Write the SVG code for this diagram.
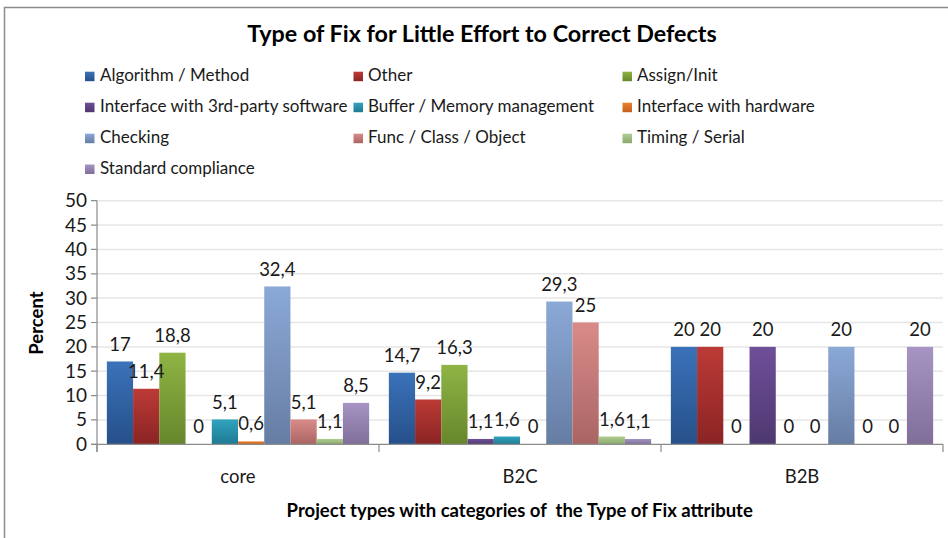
<svg xmlns="http://www.w3.org/2000/svg" width="948" height="538" viewBox="0 0 948 538">
  <style>
    text { font-family: Lato, "Liberation Sans", sans-serif; fill: #1a1a1a; }
    .title { font-size: 23.3px; font-weight: bold; text-anchor: middle; fill: #000; }
    .leg { font-size: 17px; }
    .tick { font-size: 19px; text-anchor: end; }
    .val { font-size: 18.5px; text-anchor: middle; }
    .cat { font-size: 18.5px; text-anchor: middle; }
    .axt { font-size: 18.5px; font-weight: bold; text-anchor: middle; fill: #000; }
    .grid { stroke: #e6e6e6; stroke-width: 1.5; }
    .axis { stroke: #8c8c8c; stroke-width: 1.2; fill: none; }
  </style>
  <defs>
    <linearGradient id="g1" x1="0" y1="0" x2="0" y2="1"><stop offset="0" stop-color="#3A72B9"/><stop offset="1" stop-color="#26508A"/></linearGradient>
    <linearGradient id="g2" x1="0" y1="0" x2="0" y2="1"><stop offset="0" stop-color="#BC3A36"/><stop offset="1" stop-color="#8A2424"/></linearGradient>
    <linearGradient id="g3" x1="0" y1="0" x2="0" y2="1"><stop offset="0" stop-color="#8FB444"/><stop offset="1" stop-color="#67862C"/></linearGradient>
    <linearGradient id="g4" x1="0" y1="0" x2="0" y2="1"><stop offset="0" stop-color="#6F4F9A"/><stop offset="1" stop-color="#4E3870"/></linearGradient>
    <linearGradient id="g5" x1="0" y1="0" x2="0" y2="1"><stop offset="0" stop-color="#31A3BF"/><stop offset="1" stop-color="#1E7A92"/></linearGradient>
    <linearGradient id="g6" x1="0" y1="0" x2="0" y2="1"><stop offset="0" stop-color="#EE8030"/><stop offset="1" stop-color="#C2601E"/></linearGradient>
    <linearGradient id="g7" x1="0" y1="0" x2="0" y2="1"><stop offset="0" stop-color="#8BA9D7"/><stop offset="1" stop-color="#667DA3"/></linearGradient>
    <linearGradient id="g8" x1="0" y1="0" x2="0" y2="1"><stop offset="0" stop-color="#D98B89"/><stop offset="1" stop-color="#A96563"/></linearGradient>
    <linearGradient id="g9" x1="0" y1="0" x2="0" y2="1"><stop offset="0" stop-color="#B0CD91"/><stop offset="1" stop-color="#8AA76E"/></linearGradient>
    <linearGradient id="g10" x1="0" y1="0" x2="0" y2="1"><stop offset="0" stop-color="#A695C4"/><stop offset="1" stop-color="#7F6E98"/></linearGradient>
  </defs>

  <!-- chart area frame -->
  <rect x="0" y="0" width="948" height="538" fill="#fff"/>
  <rect x="4.5" y="7.5" width="1000" height="600" fill="#fff" stroke="#8c8c8c" stroke-width="1.5"/>

  <text id="title" class="title" x="482" y="41.7">Type of Fix for Little Effort to Correct Defects</text>

  <!-- legend -->
  <g id="legend">
    <rect x="85" y="71.7" width="9.5" height="9.5" fill="url(#g1)"/><text class="leg" x="100" y="80.7">Algorithm / Method</text>
    <rect x="353.5" y="71.7" width="9.5" height="9.5" fill="url(#g2)"/><text class="leg" x="368" y="80.7">Other</text>
    <rect x="622.5" y="71.7" width="9.5" height="9.5" fill="url(#g3)"/><text class="leg" x="637" y="80.7">Assign/Init</text>
    <rect x="85" y="102.7" width="9.5" height="9.5" fill="url(#g4)"/><text class="leg" x="100" y="111.7">Interface with 3rd-party software</text>
    <rect x="353.5" y="102.7" width="9.5" height="9.5" fill="url(#g5)"/><text class="leg" x="368" y="111.7">Buffer / Memory management</text>
    <rect x="622.5" y="102.7" width="9.5" height="9.5" fill="url(#g6)"/><text class="leg" x="637" y="111.7">Interface with hardware</text>
    <rect x="85" y="133.7" width="9.5" height="9.5" fill="url(#g7)"/><text class="leg" x="100" y="142.7">Checking</text>
    <rect x="353.5" y="133.7" width="9.5" height="9.5" fill="url(#g8)"/><text class="leg" x="368" y="142.7">Func / Class / Object</text>
    <rect x="622.5" y="133.7" width="9.5" height="9.5" fill="url(#g9)"/><text class="leg" x="637" y="142.7">Timing / Serial</text>
    <rect x="85" y="164.5" width="9.5" height="9.5" fill="url(#g10)"/><text class="leg" x="100" y="173.5">Standard compliance</text>
  </g>

  <!-- gridlines every 5 % -->
  <g id="gridlines">
    <line class="grid" x1="97" y1="200.7" x2="943" y2="200.7"/>
    <line class="grid" x1="97" y1="225.1" x2="943" y2="225.1"/>
    <line class="grid" x1="97" y1="249.4" x2="943" y2="249.4"/>
    <line class="grid" x1="97" y1="273.8" x2="943" y2="273.8"/>
    <line class="grid" x1="97" y1="298.1" x2="943" y2="298.1"/>
    <line class="grid" x1="97" y1="322.5" x2="943" y2="322.5"/>
    <line class="grid" x1="97" y1="346.9" x2="943" y2="346.9"/>
    <line class="grid" x1="97" y1="371.2" x2="943" y2="371.2"/>
    <line class="grid" x1="97" y1="395.6" x2="943" y2="395.6"/>
    <line class="grid" x1="97" y1="419.9" x2="943" y2="419.9"/>
  </g>

  <!-- value axis -->
  <g id="y-axis">
    <path class="axis" d="M97 200.7V452 M91 200.7H97 M91 225.1H97 M91 249.4H97 M91 273.8H97 M91 298.1H97 M91 322.5H97 M91 346.9H97 M91 371.2H97 M91 395.6H97 M91 419.9H97 M91 444.3H97"/>
    <text class="tick" x="87" y="207.2">50</text>
    <text class="tick" x="87" y="231.6">45</text>
    <text class="tick" x="87" y="255.9">40</text>
    <text class="tick" x="87" y="280.3">35</text>
    <text class="tick" x="87" y="304.6">30</text>
    <text class="tick" x="87" y="329.0">25</text>
    <text class="tick" x="87" y="353.4">20</text>
    <text class="tick" x="87" y="377.7">15</text>
    <text class="tick" x="87" y="402.1">10</text>
    <text class="tick" x="87" y="426.4">5</text>
    <text class="tick" x="87" y="450.8">0</text>
    <text class="axt" transform="translate(43.3 323) rotate(-90)" x="0" y="0">Percent</text>
  </g>

  <!-- bars: core -->
  <g id="core">
    <rect x="106.85" y="361.48" width="26.23" height="82.82" fill="url(#g1)"/>
    <rect x="133.08" y="388.76" width="26.23" height="55.54" fill="url(#g2)"/>
    <rect x="159.31" y="352.71" width="26.23" height="91.59" fill="url(#g3)"/>
    <rect x="211.77" y="419.45" width="26.23" height="24.85" fill="url(#g5)"/>
    <rect x="238.00" y="441.38" width="26.23" height="2.92" fill="url(#g6)"/>
    <rect x="264.23" y="286.45" width="26.23" height="157.85" fill="url(#g7)"/>
    <rect x="290.46" y="419.45" width="26.23" height="24.85" fill="url(#g8)"/>
    <rect x="316.69" y="438.94" width="26.23" height="5.36" fill="url(#g9)"/>
    <rect x="342.92" y="402.89" width="26.23" height="41.41" fill="url(#g10)"/>
    <text class="val" x="119.96" y="350.5">17</text>
    <text class="val" x="146.19" y="377.8">11,4</text>
    <text class="val" x="172.42" y="341.7">18,8</text>
    <text class="val" x="198.65" y="433.3">0</text>
    <text class="val" x="224.88" y="408.5">5,1</text>
    <text class="val" x="251.11" y="430.4">0,6</text>
    <text class="val" x="277.34" y="275.5">32,4</text>
    <text class="val" x="303.57" y="408.5">5,1</text>
    <text class="val" x="329.80" y="427.9">1,1</text>
    <text class="val" x="356.03" y="391.9">8,5</text>
  </g>

  <!-- bars: B2C -->
  <g id="b2c">
    <rect x="388.85" y="372.68" width="26.23" height="71.62" fill="url(#g1)"/>
    <rect x="415.08" y="399.48" width="26.23" height="44.82" fill="url(#g2)"/>
    <rect x="441.31" y="364.89" width="26.23" height="79.41" fill="url(#g3)"/>
    <rect x="467.54" y="438.94" width="26.23" height="5.36" fill="url(#g4)"/>
    <rect x="493.77" y="436.50" width="26.23" height="7.80" fill="url(#g5)"/>
    <rect x="546.23" y="301.55" width="26.23" height="142.75" fill="url(#g7)"/>
    <rect x="572.46" y="322.50" width="26.23" height="121.80" fill="url(#g8)"/>
    <rect x="598.69" y="436.50" width="26.23" height="7.80" fill="url(#g9)"/>
    <rect x="624.92" y="438.94" width="26.23" height="5.36" fill="url(#g10)"/>
    <text class="val" x="401.96" y="361.7">14,7</text>
    <text class="val" x="428.19" y="388.5">9,2</text>
    <text class="val" x="454.42" y="353.9">16,3</text>
    <text class="val" x="480.65" y="427.9">1,1</text>
    <text class="val" x="506.88" y="425.5">1,6</text>
    <text class="val" x="533.11" y="433.3">0</text>
    <text class="val" x="559.34" y="290.5">29,3</text>
    <text class="val" x="585.57" y="311.5">25</text>
    <text class="val" x="611.80" y="425.5">1,6</text>
    <text class="val" x="638.03" y="427.9">1,1</text>
  </g>

  <!-- bars: B2B -->
  <g id="b2b">
    <rect x="670.85" y="346.86" width="26.23" height="97.44" fill="url(#g1)"/>
    <rect x="697.08" y="346.86" width="26.23" height="97.44" fill="url(#g2)"/>
    <rect x="749.54" y="346.86" width="26.23" height="97.44" fill="url(#g4)"/>
    <rect x="828.23" y="346.86" width="26.23" height="97.44" fill="url(#g7)"/>
    <rect x="906.92" y="346.86" width="26.23" height="97.44" fill="url(#g10)"/>
    <text class="val" x="683.96" y="335.9">20</text>
    <text class="val" x="710.19" y="335.9">20</text>
    <text class="val" x="736.42" y="433.3">0</text>
    <text class="val" x="762.65" y="335.9">20</text>
    <text class="val" x="788.88" y="433.3">0</text>
    <text class="val" x="815.11" y="433.3">0</text>
    <text class="val" x="841.34" y="335.9">20</text>
    <text class="val" x="867.57" y="433.3">0</text>
    <text class="val" x="893.80" y="433.3">0</text>
    <text class="val" x="920.03" y="335.9">20</text>
  </g>

  <!-- category axis -->
  <g id="x-axis">
    <path class="axis" d="M91 444.3H943 M97 444.3V452 M379 444.3V452 M661 444.3V452 M943 444.3V452"/>
    <text class="cat" x="238" y="482.5">core</text>
    <text class="cat" x="520" y="482.5">B2C</text>
    <text class="cat" x="802" y="482.5">B2B</text>
    <text class="axt" x="519.7" y="517.3" xml:space="preserve">Project types with categories of  the Type of Fix attribute</text>
  </g>
</svg>
